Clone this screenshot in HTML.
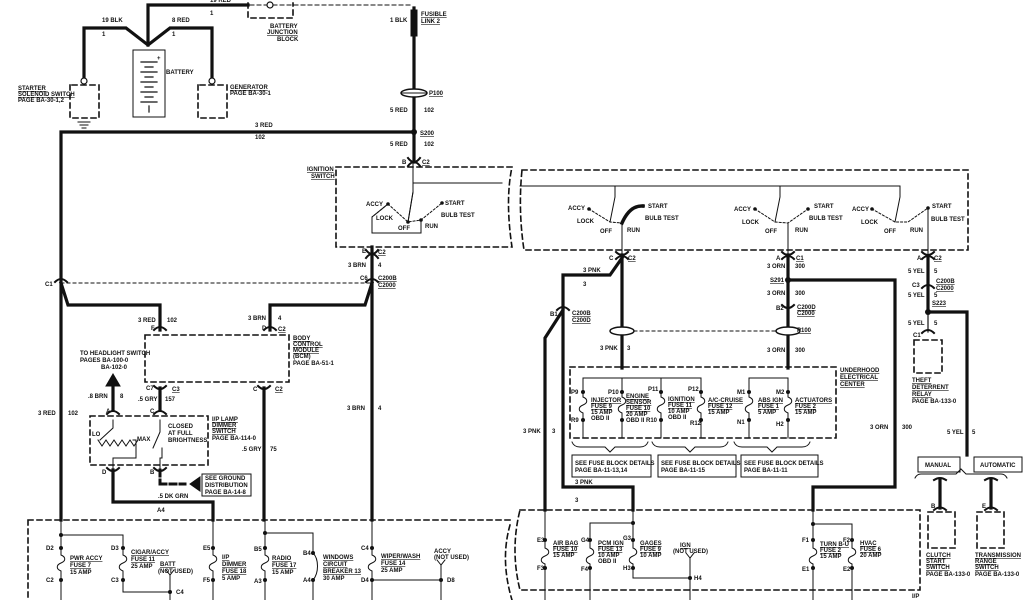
<!DOCTYPE html>
<html><head><meta charset="utf-8"><style>
html,body{margin:0;padding:0;background:#fff;}
svg{display:block;}
text{font-family:"Liberation Sans",sans-serif;font-size:6px;font-weight:bold;fill:#111;}
.u{text-decoration:underline;}
</style></head><body>
<svg width="1024" height="600" viewBox="0 0 1024 600" xmlns="http://www.w3.org/2000/svg">
<defs>
<g id="dot"><circle r="2.6" fill="#111"/></g>
</defs>
<g fill="none" stroke="#111" stroke-linecap="square">
<!-- TOP battery area -->
<g stroke-width="3.2">
<path d="M148 45 V5 H248"/>
<path d="M84 80 V28 H126 L148 45 L170 28 H212 V80"/>
<path d="M414 8 V132 H61 V520"/>
<path d="M414 132 V162"/>
</g>
<rect x="411" y="10" width="6" height="26" fill="#111"/>
<circle cx="270" cy="5" r="3" fill="#fff" stroke-width="1.2"/>
<path d="M250 5 H267 M273 5 H412" stroke-width="1" stroke-dasharray="4,3"/>
<path d="M248 3 V18 H293 V3" stroke-width="1.6" stroke-dasharray="5,4"/>
<rect x="133" y="50" width="32" height="67" stroke-width="1"/>
<g stroke-width="1.2"><path d="M141 62H157M145 67H153M141 72H157M145 77H153M141 82H157M145 87H153M141 92H157M145 97H153M141 102H157M149 106V112"/></g>
<path d="M70 85V118H99V85H70" stroke-width="1.6" stroke-dasharray="5,4"/>
<path d="M198 85V118H227V85H198" stroke-width="1.6" stroke-dasharray="5,4"/>
<circle cx="84" cy="81" r="3" fill="#fff" stroke-width="1.2"/>
<circle cx="212" cy="81" r="3" fill="#fff" stroke-width="1.2"/>
<path d="M78 122H90M80 125H88M82 128H86" stroke-width="1"/>
<ellipse cx="414" cy="93" rx="13" ry="4" fill="#fff" stroke-width="1.5"/>
<path d="M402 93H426" stroke-width="1"/>
<!-- Ignition switch left -->
<path d="M336 167 H512 Q505 200 512 247 H336 Z" stroke-width="1.6" stroke-dasharray="5,4"/>
<path d="M413 164 V192 L408 222 M413 183 H502" stroke-width="1"/>
<path d="M388 204 L372 217 V233 H421 V220 M388 204 L408 222 L421 220 L442 203" stroke-width="1" stroke-dasharray="2,2"/>
<path d="M388 204 L372 217 V233 H421 V220 M413 192 L408 222" stroke-width="1"/>
<!-- connector chain left vertical -->
<path d="M372 247 V520" stroke-width="3.2"/>
<path d="M61 283 H372" stroke-width="1" stroke-dasharray="3,3"/>
<path d="M61 283 L68 305 H160 V330 M372 283 L365 305 H270 V330" stroke-width="3.2"/>
<!-- BCM -->
<rect x="145" y="335" width="144" height="47" stroke-width="1.6" stroke-dasharray="5,4"/>
<path d="M160 388 V410" stroke-width="3.2"/>
<path d="M264 388 V520" stroke-width="3.2"/>
<path d="M113 410 V385" stroke-width="3.2"/>
<path d="M106 386 L113 374 L120 386 Z" fill="#111"/>
<!-- dimmer -->
<rect x="90" y="416" width="118" height="49" stroke-width="1.6" stroke-dasharray="5,4"/>
<path d="M113 420 V428 L100 440 M98 440 l4 6 l4 -6 l4 6 l4 -6 l4 6 l4 -6 l4 6 l4 -6 l4 6 l4 -6 M133 440 H136 V458 H113 V470 M160 420 V432 L153 448 M162 448 V458 H160 V470" stroke-width="1"/>
<path d="M113 470 V502 H213 V520" stroke-width="3.2"/>
<path d="M160 470 V482 M160 484 H185" stroke-width="3" stroke-dasharray="6,4"/>
<path d="M190 484 L200 477 V491 Z" fill="#111"/>
<rect x="202" y="474" width="49" height="22" stroke-width="1"/>
<!-- bottom left box -->
<path d="M28 520 H512 M28 520 V600" stroke-width="1.6" stroke-dasharray="5,4"/>
<path d="M510 525 Q500 560 512 600" stroke-width="1.6" stroke-dasharray="5,4"/>
<g stroke-width="1">
<path d="M61 520V555c5 2 5 6 0 8c-5 2-5 6 0 8V600"/>
<path d="M61 535H123V555c5 2 5 6 0 8c-5 2-5 6 0 8V592H170"/>
<path d="M170 600V575l-4-5M170 575l4-5"/>
<path d="M213 520V555c5 2 5 6 0 8c-5 2-5 6 0 8V600"/>
<path d="M265 520V555c5 2 5 6 0 8c-5 2-5 6 0 8V600"/>
<path d="M265 533H313V553c6 6 6 20 0 27V600"/>
<path d="M372 520V555c5 2 5 6 0 8c-5 2-5 6 0 8V600"/>
<path d="M372 580H441V600M441 580V565l-4-5M441 565l4-5"/>
</g>
<!-- RIGHT ignition block -->
<path d="M522 170 H968 V250 H524 Q518 210 522 170" stroke-width="1.6" stroke-dasharray="5,4"/>
<path d="M520 186 H900 V197 L895 222 M615 186 V197 L610 222 M780 186 V197 L775 222" stroke-width="1"/>
<path d="M589 209 L610 222 L622 223 M755 209 L775 222 L788 223 L808 209 M872 209 L895 222 L908 222 L928 208" stroke-width="1" stroke-dasharray="2,2"/>
<path d="M622 223 Q630 205 643 206" stroke-width="3.5"/>
<path d="M622 223 V368 M788 223 V368" stroke-width="1"/>
<path d="M928 208 V258" stroke-width="1"/>
<g stroke-width="3.2">
<path d="M622 255 V368"/>
<path d="M622 258 L610 275 H563 V310 L545 338 V510"/>
<path d="M563 310 V487 H633 V510"/>
<path d="M788 255 V368"/>
<path d="M788 280 H895 V487 H813 V510"/>
<path d="M928 258 V312 M928 312 H967 V455"/>
</g>
<path d="M928 312 V332" stroke-width="1.2"/>
<ellipse cx="622" cy="331" rx="12" ry="4" fill="#fff" stroke-width="1.5"/>
<ellipse cx="788" cy="331" rx="12" ry="4" fill="#fff" stroke-width="1.5"/>
<path d="M634 331 H776" stroke-width="1" stroke-dasharray="3,3"/>
<rect x="914" y="340" width="28" height="33" stroke-width="1.6" stroke-dasharray="5,4"/>
<!-- underhood -->
<rect x="570" y="367" width="266" height="71" stroke-width="1.6" stroke-dasharray="5,4"/>
<g stroke-width="1">
<path d="M583 378H701M749 378H788"/>
<path d="M583 378V397c5 2 5 6 0 8c-5 2-5 6 0 8V438"/>
<path d="M622 378V397c5 2 5 6 0 8c-5 2-5 6 0 8V438"/>
<path d="M661 378V397c5 2 5 6 0 8c-5 2-5 6 0 8V438"/>
<path d="M701 378V397c5 2 5 6 0 8c-5 2-5 6 0 8V438"/>
<path d="M749 378V397c5 2 5 6 0 8c-5 2-5 6 0 8V438"/>
<path d="M788 378V397c5 2 5 6 0 8c-5 2-5 6 0 8V438"/>
<path d="M572 442 q2 5 8 5 h25 l5 5 l5 -5 h25 q6 0 8 -5"/>
<path d="M652 442 q2 5 8 5 h25 l5 5 l5 -5 h25 q6 0 8 -5"/>
<path d="M734 442 q2 5 8 5 h25 l5 5 l5 -5 h25 q6 0 8 -5"/>
<rect x="572" y="455" width="79" height="22"/>
<rect x="658" y="455" width="78" height="22"/>
<rect x="741" y="455" width="77" height="22"/>
<rect x="918" y="457" width="42" height="15"/>
<rect x="974" y="457" width="48" height="15"/>
<path d="M915 478 q2 -4 6 -4 h35 l5 -5 l5 5 h35 q4 0 6 4"/>
</g>
<!-- bottom right box -->
<path d="M520 510 H920 V590 H520 Q510 550 520 510" stroke-width="1.6" stroke-dasharray="5,4"/>
<g stroke-width="1">
<path d="M545 510V548c5 2 5 6 0 8c-5 2-5 6 0 8V600"/>
<path d="M633 510V548c5 2 5 6 0 8c-5 2-5 6 0 8V578H690"/>
<path d="M633 523H590V548c5 2 5 6 0 8c-5 2-5 6 0 8V600"/>
<path d="M690 600V558l-4-5M690 558l4-5"/>
<path d="M813 510V548c5 2 5 6 0 8c-5 2-5 6 0 8V600"/>
<path d="M813 524H852V548c5 2 5 6 0 8c-5 2-5 6 0 8V600"/>
</g>
<path d="M940 480 V508 M991 480 V508" stroke-width="3.2"/>
<path d="M934 480 q6 -4 12 0 M985 480 q6 -4 12 0 M934 510 q6 -5 12 0 M985 510 q6 -5 12 0" stroke-width="2"/>
<rect x="928" y="512" width="27" height="36" stroke-width="1.6" stroke-dasharray="5,4"/>
<rect x="977" y="512" width="27" height="36" stroke-width="1.6" stroke-dasharray="5,4"/>
<!-- connector symbols -->
<g stroke-width="2">
<path d="M408 158 q6 8 12 0 M408 166 q6-8 12 0"/>
<path d="M366 250 q6 8 12 0 M366 258 q6-8 12 0"/>
<path d="M55 282 q6 -6 12 0 M366 282 q6 -6 12 0"/>
<path d="M154 330 q6-6 12 0 M264 330 q6-6 12 0"/>
<path d="M154 386 q6 6 12 0 M258 386 q6 6 12 0"/>
<path d="M154 414 q6-6 12 0 M107 414 q6-6 12 0"/>
<path d="M107 468 q6 6 12 0 M154 468 q6 6 12 0"/>
<path d="M616 252 q6 6 12 0 M616 259 q6-6 12 0"/>
<path d="M782 252 q6 6 12 0 M782 259 q6-6 12 0"/>
<path d="M922 252 q6 6 12 0 M922 259 q6-6 12 0"/>
<path d="M557 310 q6-6 12 0 M782 305 q6 6 12 0 M922 288 q6-6 12 0"/>
<path d="M922 333 q6-6 12 0"/>
</g>
</g>
<!-- dots -->
<g fill="#111">
<circle cx="414" cy="132" r="3"/><circle cx="788" cy="280" r="3"/><circle cx="928" cy="312" r="3"/>
<circle cx="61" cy="535" r="2"/><circle cx="61" cy="548" r="2"/><circle cx="61" cy="580" r="2"/>
<circle cx="123" cy="548" r="2"/><circle cx="123" cy="580" r="2"/><circle cx="170" cy="592" r="2"/>
<circle cx="213" cy="548" r="2"/><circle cx="213" cy="580" r="2"/><circle cx="265" cy="533" r="2"/>
<circle cx="265" cy="548" r="2"/><circle cx="265" cy="580" r="2"/><circle cx="313" cy="553" r="2"/><circle cx="313" cy="580" r="2"/>
<circle cx="372" cy="548" r="2"/><circle cx="372" cy="580" r="2"/><circle cx="441" cy="580" r="2"/>
<circle cx="583" cy="392" r="2"/><circle cx="583" cy="420" r="2"/><circle cx="622" cy="392" r="2"/><circle cx="622" cy="420" r="2"/>
<circle cx="661" cy="392" r="2"/><circle cx="661" cy="420" r="2"/><circle cx="701" cy="392" r="2"/><circle cx="701" cy="420" r="2"/>
<circle cx="749" cy="392" r="2"/><circle cx="749" cy="420" r="2"/><circle cx="788" cy="392" r="2"/><circle cx="788" cy="420" r="2"/>
<circle cx="545" cy="540" r="2"/><circle cx="545" cy="568" r="2"/><circle cx="590" cy="540" r="2"/><circle cx="590" cy="568" r="2"/>
<circle cx="633" cy="523" r="2"/><circle cx="633" cy="540" r="2"/><circle cx="633" cy="568" r="2"/><circle cx="690" cy="578" r="2"/>
<circle cx="813" cy="524" r="2"/><circle cx="813" cy="540" r="2"/><circle cx="813" cy="568" r="2"/><circle cx="852" cy="540" r="2"/><circle cx="852" cy="568" r="2"/>
<circle cx="388" cy="204" r="1.8"/><circle cx="442" cy="203" r="1.8"/><circle cx="408" cy="222" r="1.8"/><circle cx="421" cy="220" r="1.8"/>
<circle cx="589" cy="209" r="1.8"/><circle cx="643" cy="206" r="1.8"/><circle cx="755" cy="209" r="1.8"/><circle cx="808" cy="209" r="1.8"/><circle cx="872" cy="209" r="1.8"/><circle cx="928" cy="208" r="1.8"/>
</g>
<!-- labels -->
<text x="102" y="22">19 BLK</text><text x="102" y="36">1</text>
<text x="172" y="22">8 RED</text><text x="172" y="36">1</text>
<text x="210" y="2">19 RED</text><text x="210" y="15">1</text>
<text x="166" y="74">BATTERY</text><text x="157" y="60">+</text>
<text x="18" y="90" class="u">STARTER</text><text x="18" y="96" class="u">SOLENOID SWITCH</text><text x="18" y="102">PAGE BA-30-1,2</text>
<text x="230" y="89" class="u">GENERATOR</text><text x="230" y="95">PAGE BA-30-1</text>
<text x="270" y="28">BATTERY</text><text x="267" y="34" class="u">JUNCTION</text><text x="277" y="41">BLOCK</text>
<text x="390" y="22">1 BLK</text><text x="421" y="16" class="u">FUSIBLE</text><text x="421" y="23" class="u">LINK 2</text>
<text x="429" y="95" class="u">P100</text><text x="390" y="112">5 RED</text><text x="424" y="112">102</text>
<text x="255" y="127">3 RED</text><text x="255" y="139">102</text><text x="420" y="135" class="u">S200</text>
<text x="390" y="146">5 RED</text><text x="424" y="146">102</text><text x="402" y="164">B</text><text x="422" y="164" class="u">C2</text>
<text x="307" y="171" class="u">IGNITION</text><text x="311" y="178" class="u">SWITCH</text>
<text x="366" y="206">ACCY</text><text x="376" y="220">LOCK</text><text x="398" y="230">OFF</text><text x="425" y="228">RUN</text>
<text x="445" y="205">START</text><text x="441" y="217">BULB TEST</text>
<text x="362" y="253">E</text><text x="378" y="254" class="u">C2</text><text x="348" y="267">3 BRN</text><text x="378" y="267">4</text>
<text x="360" y="280">C6</text><text x="378" y="280" class="u">C200B</text><text x="378" y="287" class="u">C2000</text><text x="45" y="286">C1</text>
<text x="138" y="322">3 RED</text><text x="167" y="322">102</text><text x="151" y="330">F</text>
<text x="248" y="320">3 BRN</text><text x="278" y="320">4</text><text x="262" y="330">D</text><text x="278" y="331" class="u">C2</text>
<text x="293" y="340" class="u">BODY</text><text x="293" y="346" class="u">CONTROL</text><text x="293" y="352" class="u">MODULE</text><text x="293" y="358">(BCM)</text><text x="293" y="365">PAGE BA-51-1</text>
<text x="80" y="355">TO HEADLIGHT SWITCH</text><text x="80" y="362">PAGES BA-100-0</text><text x="101" y="369">BA-102-0</text>
<text x="146" y="390">C7</text><text x="172" y="391" class="u">C3</text><text x="253" y="391">C</text><text x="275" y="391" class="u">C2</text>
<text x="88" y="398">.8 BRN</text><text x="120" y="398">8</text><text x="138" y="401">.5 GRY</text><text x="165" y="401">157</text>
<text x="106" y="413">A</text><text x="150" y="413">C</text><text x="38" y="415">3 RED</text><text x="68" y="415">102</text>
<text x="347" y="410">3 BRN</text><text x="378" y="410">4</text>
<text x="168" y="428">CLOSED</text><text x="168" y="435">AT FULL</text><text x="168" y="442">BRIGHTNESS</text>
<text x="212" y="421" class="u">I/P LAMP</text><text x="212" y="427" class="u">DIMMER</text><text x="212" y="433" class="u">SWITCH</text><text x="212" y="440">PAGE BA-114-0</text>
<text x="92" y="436">LO</text><text x="137" y="441">MAX</text><text x="242" y="451">.5 GRY</text><text x="270" y="451">75</text>
<text x="102" y="474">D</text><text x="150" y="474">B</text>
<text x="205" y="480">SEE GROUND</text><text x="205" y="487">DISTRIBUTION</text><text x="205" y="494">PAGE BA-14-8</text>
<text x="158" y="498">.5 DK GRN</text><text x="157" y="512">A4</text>
<text x="46" y="550">D2</text><text x="70" y="560" class="u">PWR ACCY</text><text x="70" y="567" class="u">FUSE 7</text><text x="70" y="574">15 AMP</text><text x="46" y="582">C2</text>
<text x="111" y="550">D3</text><text x="131" y="554" class="u">CIGAR/ACCY</text><text x="131" y="561" class="u">FUSE 11</text><text x="131" y="568">25 AMP</text><text x="111" y="582">C3</text>
<text x="160" y="566" class="u">BATT</text><text x="158" y="573">(NOT USED)</text><text x="176" y="594">C4</text>
<text x="203" y="550">E5</text><text x="222" y="559" class="u">I/P</text><text x="222" y="566" class="u">DIMMER</text><text x="222" y="573" class="u">FUSE 18</text><text x="222" y="580">5 AMP</text><text x="203" y="582">F5</text>
<text x="254" y="551">B5</text><text x="272" y="560" class="u">RADIO</text><text x="272" y="567" class="u">FUSE 17</text><text x="272" y="574">15 AMP</text><text x="254" y="583">A3</text>
<text x="303" y="555">B4</text><text x="323" y="559" class="u">WINDOWS</text><text x="323" y="566" class="u">CIRCUIT</text><text x="323" y="573" class="u">BREAKER 13</text><text x="323" y="580">30 AMP</text><text x="303" y="582">A4</text>
<text x="361" y="550">C4</text><text x="381" y="558" class="u">WIPER/WASH</text><text x="381" y="565" class="u">FUSE 14</text><text x="381" y="572">25 AMP</text><text x="361" y="582">D4</text>
<text x="434" y="553">ACCY</text><text x="434" y="559">(NOT USED)</text><text x="447" y="582">D8</text>
<!-- right side labels -->
<text x="568" y="210">ACCY</text><text x="577" y="223">LOCK</text><text x="600" y="233">OFF</text><text x="627" y="232">RUN</text><text x="648" y="208">START</text><text x="645" y="220">BULB TEST</text>
<text x="734" y="211">ACCY</text><text x="742" y="224">LOCK</text><text x="765" y="233">OFF</text><text x="795" y="232">RUN</text><text x="814" y="208">START</text><text x="809" y="220">BULB TEST</text>
<text x="852" y="211">ACCY</text><text x="861" y="224">LOCK</text><text x="884" y="233">OFF</text><text x="910" y="232">RUN</text><text x="932" y="208">START</text><text x="931" y="221">BULB TEST</text>
<text x="609" y="260">C</text><text x="628" y="260" class="u">C2</text><text x="776" y="260">A</text><text x="796" y="260" class="u">C1</text><text x="917" y="260">A</text><text x="934" y="260" class="u">C2</text>
<text x="583" y="272">3 PNK</text><text x="583" y="286">3</text>
<text x="767" y="268">3 ORN</text><text x="795" y="268">300</text><text x="770" y="282" class="u">S291</text>
<text x="767" y="295">3 ORN</text><text x="795" y="295">300</text><text x="776" y="310">B2</text><text x="797" y="309" class="u">C200D</text><text x="797" y="315" class="u">C2000</text>
<text x="797" y="332" class="u">P100</text><text x="767" y="352">3 ORN</text><text x="795" y="352">300</text>
<text x="550" y="316">B1</text><text x="572" y="315" class="u">C200B</text><text x="572" y="322" class="u">C200D</text>
<text x="600" y="350">3 PNK</text><text x="627" y="350">3</text>
<text x="908" y="273">5 YEL</text><text x="934" y="273">5</text><text x="912" y="287">C3</text><text x="936" y="283" class="u">C200B</text><text x="936" y="290" class="u">C2000</text>
<text x="908" y="297">5 YEL</text><text x="934" y="297">5</text><text x="932" y="305" class="u">S223</text><text x="908" y="325">5 YEL</text><text x="934" y="325">5</text><text x="913" y="337">C1</text>
<text x="912" y="382" class="u">THEFT</text><text x="912" y="389" class="u">DETERRENT</text><text x="912" y="396" class="u">RELAY</text><text x="912" y="403">PAGE BA-133-0</text>
<text x="840" y="372" class="u">UNDERHOOD</text><text x="840" y="379" class="u">ELECTRICAL</text><text x="840" y="386" class="u">CENTER</text>
<text x="571" y="394">P9</text><text x="591" y="402" class="u">INJECTOR</text><text x="591" y="408" class="u">FUSE 9</text><text x="591" y="414">15 AMP</text><text x="591" y="420">OBD II</text><text x="571" y="422">R9</text>
<text x="608" y="394">P10</text><text x="626" y="398" class="u">ENGINE</text><text x="626" y="404" class="u">SENSOR</text><text x="626" y="410" class="u">FUSE 10</text><text x="626" y="416">20 AMP</text><text x="626" y="422">OBD II R10</text>
<text x="648" y="391">P11</text><text x="668" y="401" class="u">IGNITION</text><text x="668" y="407" class="u">FUSE 11</text><text x="668" y="413">10 AMP</text><text x="668" y="419">OBD II</text>
<text x="688" y="391">P12</text><text x="708" y="402" class="u">A/C-CRUISE</text><text x="708" y="408" class="u">FUSE 12</text><text x="708" y="414">15 AMP</text><text x="690" y="425">R12</text>
<text x="737" y="394">M1</text><text x="758" y="402" class="u">ABS IGN</text><text x="758" y="408" class="u">FUSE 1</text><text x="758" y="414">5 AMP</text><text x="737" y="424">N1</text>
<text x="776" y="394">M2</text><text x="795" y="402" class="u">ACTUATORS</text><text x="795" y="408" class="u">FUSE 2</text><text x="795" y="414">15 AMP</text><text x="776" y="426">H2</text>
<text x="523" y="433">3 PNK</text><text x="552" y="433">3</text><text x="870" y="429">3 ORN</text><text x="902" y="429">300</text><text x="947" y="434">5 YEL</text><text x="972" y="434">5</text>
<text x="575" y="465">SEE FUSE BLOCK DETAILS</text><text x="575" y="472">PAGE BA-11-13,14</text>
<text x="661" y="465">SEE FUSE BLOCK DETAILS</text><text x="661" y="472">PAGE BA-11-15</text>
<text x="744" y="465">SEE FUSE BLOCK DETAILS</text><text x="744" y="472">PAGE BA-11-11</text>
<text x="925" y="467">MANUAL</text><text x="980" y="467">AUTOMATIC</text>
<text x="575" y="484">3 PNK</text><text x="575" y="502">3</text>
<text x="537" y="542">E3</text><text x="553" y="545" class="u">AIR BAG</text><text x="553" y="551" class="u">FUSE 10</text><text x="553" y="557">15 AMP</text><text x="537" y="570">F3</text>
<text x="581" y="542">G4</text><text x="598" y="545" class="u">PCM IGN</text><text x="598" y="551" class="u">FUSE 13</text><text x="598" y="557">10 AMP</text><text x="598" y="563">OBD II</text><text x="581" y="571">F4</text>
<text x="623" y="540">G3</text><text x="640" y="545" class="u">GAGES</text><text x="640" y="551" class="u">FUSE 9</text><text x="640" y="557">10 AMP</text><text x="623" y="570">H3</text>
<text x="680" y="547" class="u">IGN</text><text x="673" y="553">(NOT USED)</text><text x="694" y="580">H4</text>
<text x="802" y="542">F1</text><text x="820" y="546" class="u">TURN B-U</text><text x="820" y="552" class="u">FUSE 2</text><text x="820" y="558">15 AMP</text><text x="802" y="571">E1</text>
<text x="843" y="542">F2</text><text x="860" y="545" class="u">HVAC</text><text x="860" y="551" class="u">FUSE 6</text><text x="860" y="557">20 AMP</text><text x="843" y="571">E2</text>
<text x="926" y="557" class="u">CLUTCH</text><text x="926" y="563" class="u">START</text><text x="926" y="569" class="u">SWITCH</text><text x="926" y="576">PAGE BA-133-0</text>
<text x="975" y="557" class="u">TRANSMISSION</text><text x="975" y="563" class="u">RANGE</text><text x="975" y="569" class="u">SWITCH</text><text x="975" y="576">PAGE BA-133-0</text>
<text x="912" y="598">I/P</text><text x="931" y="508">B</text><text x="982" y="508">E</text>
</svg>
</body></html>
